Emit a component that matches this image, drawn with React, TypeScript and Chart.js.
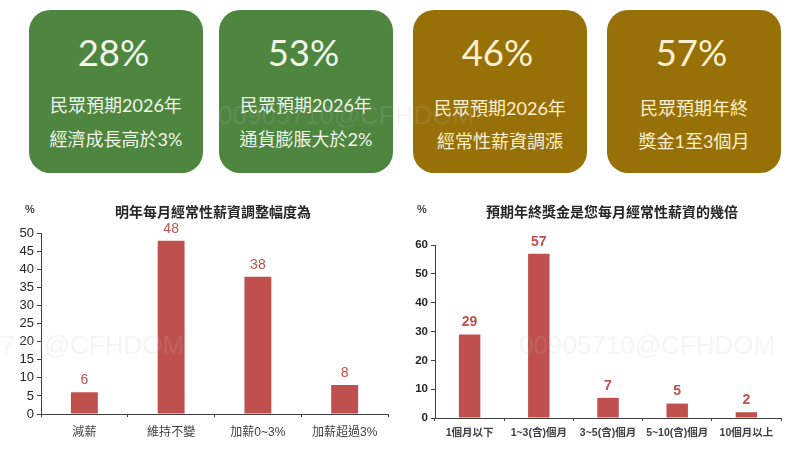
import { useEffect, useRef } from "react"
import { Chart, registerables, type Plugin } from "chart.js"

Chart.register(...registerables)

const FONT = '"Liberation Sans", "Noto Sans CJK TC", sans-serif'
const CARD_FONT = 'Lato, "Noto Sans CJK TC", sans-serif'

const leftCategories = ["減薪", "維持不變", "加薪0~3%", "加薪超過3%"]
const leftValues = [6, 48, 38, 8]
const leftTitle = "明年每月經常性薪資調整幅度為"

const rightCategories = ["1個月以下", "1~3(含)個月", "3~5(含)個月", "5~10(含)個月", "10個月以上"]
const rightValues = [29, 57, 7, 5, 2]
const rightTitle = "預期年終獎金是您每月經常性薪資的幾倍"

const cardNumbers = ["28%", "53%", "46%", "57%"]
const cardFirstLines = ["民眾預期2026年", "民眾預期2026年", "民眾預期2026年", "民眾預期年終"]
const cardSecondLines = ["經濟成長高於3%", "通貨膨脹大於2%", "經常性薪資調漲", "獎金1至3個月"]
const cardLefts = [29, 219, 413, 607]
const cardColors = ["#4e853f", "#4e853f", "#977108", "#977108"]
const cardTextColors = ["#f1f6ea", "#f1f6ea", "#fdf0cf", "#fdf0cf"]
const cardLineTops = [[105, 139], [105, 139], [108, 141], [108, 141]]

const watermark = "00905710@CFHDOM"
const watermarkSpots = [
  { left: 218, top: 98 },
  { left: 519, top: 328 },
  { left: -72, top: 328 },
]

// value labels plus the title and the % unit, placed from the canvas size
const textPlugin: Plugin<"bar"> = {
  id: "chartTexts",
  afterDatasetsDraw(chart, _args, opts: any) {
    const ctx = chart.ctx
    const meta = chart.getDatasetMeta(0)
    const values = chart.data.datasets[0].data as number[]
    ctx.save()
    ctx.textAlign = "center"
    ctx.textBaseline = "middle"
    ctx.fillStyle = "#c0504d"
    ctx.font = `${opts.valueWeight} 14px ${FONT}`
    meta.data.forEach((bar, i) => {
      ctx.fillText(String(values[i]), bar.x, bar.y - 12)
    })
    ctx.fillStyle = "#262626"
    ctx.font = `bold 14px ${FONT}`
    ctx.fillText(opts.title, opts.titleX, opts.titleY)
    ctx.fillStyle = "#404040"
    ctx.font = `bold 11px ${FONT}`
    ctx.fillText("%", opts.unitX, opts.unitY)
    ctx.restore()
  },
}

interface BarPanelProps {
  left: number
  categories: string[]
  values: number[]
  title: string
  titleX: number
  unitX: number
  max: number
  step: number
  plot: { left: number; right: number; top: number; bottom: number }
  tickSize: number
  tickWeight: string
  labelSize: number
  labelWeight: string
  labelPad: number
  valueWeight: string
}

const BarPanel = (p: BarPanelProps) => {
  const canvasRef = useRef<HTMLCanvasElement>(null)

  useEffect(() => {
    if (!canvasRef.current) return
    const chart = new Chart(canvasRef.current, {
      type: "bar",
      data: {
        labels: p.categories,
        datasets: [
          {
            data: p.values,
            backgroundColor: "#c0504d",
            borderWidth: 0,
            barPercentage: 0.31,
            categoryPercentage: 1,
          },
        ],
      },
      plugins: [textPlugin],
      options: {
        animation: false,
        responsive: false,
        layout: { padding: { left: 0, right: 400 - p.plot.right, top: p.plot.top, bottom: 0 } },
        plugins: {
          legend: { display: false },
          title: { display: false },
          tooltip: { enabled: false },
          chartTexts: {
            title: p.title,
            titleX: p.titleX,
            titleY: 23,
            unitX: p.unitX,
            unitY: 20,
            valueWeight: p.valueWeight,
          },
        } as any,
        scales: {
          x: {
            afterFit: (axis: any) => {
              axis.height = 260 - p.plot.bottom
            },
            border: { color: "#404040", width: 1 },
            grid: { offset: true, drawOnChartArea: false, drawTicks: true, tickLength: 3, tickColor: "#404040" },
            ticks: {
              color: "#404040",
              padding: p.labelPad,
              maxRotation: 0,
              autoSkip: false,
              font: { family: FONT, size: p.labelSize, weight: p.labelWeight },
            },
          },
          y: {
            min: 0,
            max: p.max,
            afterFit: (axis: any) => {
              axis.width = p.plot.left
            },
            border: { color: "#404040", width: 1 },
            grid: { drawOnChartArea: false, drawTicks: true, tickLength: 4, tickColor: "#404040" },
            ticks: {
              stepSize: p.step,
              autoSkip: false,
              color: "#262626",
              padding: 3,
              font: { family: FONT, size: p.tickSize, weight: p.tickWeight },
            },
          },
        },
      } as any,
    })
    return () => chart.destroy()
  }, [])

  return (
    <canvas
      ref={canvasRef}
      width={400}
      height={260}
      style={{ position: "absolute", left: p.left, top: 190, width: 400, height: 260 }}
    />
  )
}

export default function App() {
  return (
    <div style={{ position: "fixed", left: 0, top: 0, width: 800, height: 450, overflow: "hidden", background: "#fff" }}>
      {cardNumbers.map((num, i) => (
        <div
          key={i}
          style={{
            position: "absolute",
            left: cardLefts[i],
            top: 10,
            width: 174,
            height: 163,
            borderRadius: 21,
            background: cardColors[i],
            color: cardTextColors[i],
            textAlign: "center",
          }}
        >
          <div style={{ position: "absolute", left: -3, right: 2, top: 12, height: 60, lineHeight: "60px", fontFamily: CARD_FONT, fontSize: 36.5 }}>
            {num}
          </div>
          {[cardFirstLines[i], cardSecondLines[i]].map((line, j) => (
            <div
              key={j}
              style={{
                position: "absolute",
                left: 0,
                right: 0,
                top: cardLineTops[i][j] - 10 - 15,
                height: 30,
                lineHeight: "30px",
                fontFamily: CARD_FONT,
                fontSize: 18,
                whiteSpace: "nowrap",
              }}
            >
              {line}
            </div>
          ))}
        </div>
      ))}
      <BarPanel
        left={0}
        categories={leftCategories}
        values={leftValues}
        title={leftTitle}
        titleX={213}
        unitX={30}
        max={50}
        step={5}
        plot={{ left: 41, right: 388, top: 43.5, bottom: 224 }}
        tickSize={13}
        tickWeight="normal"
        labelSize={12}
        labelWeight="normal"
        labelPad={8}
        valueWeight="normal"
      />
      <BarPanel
        left={400}
        categories={rightCategories}
        values={rightValues}
        title={rightTitle}
        titleX={212}
        unitX={22}
        max={60}
        step={10}
        plot={{ left: 35, right: 381, top: 55, bottom: 228 }}
        tickSize={11.5}
        tickWeight="bold"
        labelSize={10.5}
        labelWeight="bold"
        labelPad={6}
        valueWeight="bold"
      />
      {watermarkSpots.map((spot, i) => (
        <div
          key={i}
          style={{
            position: "absolute",
            left: spot.left,
            top: spot.top,
            fontFamily: FONT,
            fontSize: 26,
            lineHeight: "34px",
            color: "rgba(190,195,205,0.16)",
            whiteSpace: "nowrap",
            pointerEvents: "none",
          }}
        >
          {watermark}
        </div>
      ))}
    </div>
  )
}
